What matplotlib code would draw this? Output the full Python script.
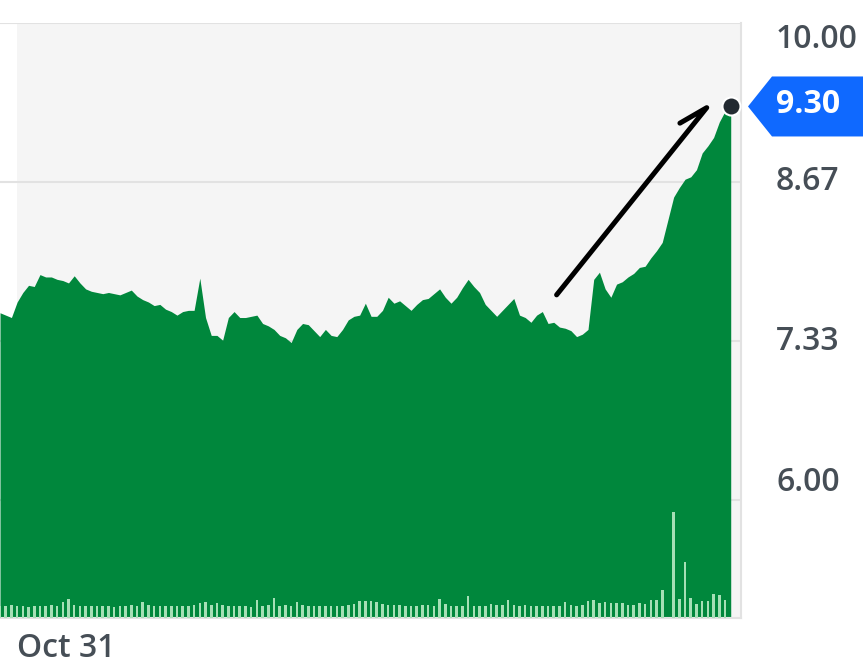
import matplotlib
matplotlib.use("Agg")
import matplotlib.pyplot as plt
import numpy as np
from matplotlib.patches import Polygon
from matplotlib.transforms import Affine2D, blended_transform_factory

# ── Data ────────────────────────────────────────────────────────────────
PRICES = [
    7.57, 7.55, 7.53, 7.66, 7.74, 7.80, 7.79, 7.89, 7.87, 7.87,
    7.85, 7.84, 7.82, 7.88, 7.82, 7.77, 7.75, 7.74, 7.73, 7.74,
    7.73, 7.72, 7.74, 7.76, 7.71, 7.68, 7.66, 7.63, 7.64, 7.60,
    7.58, 7.55, 7.58, 7.59, 7.59, 7.86, 7.53, 7.38, 7.38, 7.34,
    7.53, 7.58, 7.53, 7.53, 7.54, 7.55, 7.48, 7.46, 7.43, 7.38,
    7.36, 7.32, 7.43, 7.48, 7.47, 7.42, 7.37, 7.43, 7.38, 7.37,
    7.43, 7.51, 7.54, 7.55, 7.65, 7.54, 7.54, 7.59, 7.70, 7.65,
    7.67, 7.63, 7.59, 7.64, 7.68, 7.69, 7.73, 7.77, 7.70, 7.65,
    7.70, 7.78, 7.85, 7.79, 7.74, 7.64, 7.59, 7.54, 7.59, 7.64,
    7.69, 7.55, 7.53, 7.49, 7.55, 7.58, 7.48, 7.49, 7.45, 7.44,
    7.42, 7.37, 7.39, 7.43, 7.85, 7.91, 7.77, 7.70, 7.81, 7.83,
    7.87, 7.90, 7.95, 7.96, 8.03, 8.09, 8.16, 8.35, 8.54, 8.62,
    8.69, 8.71, 8.77, 8.91, 8.97, 9.04, 9.17, 9.26, 9.30,
]

# volume, millions of shares
VOLUMES = [
    1.2, 1.2, 1.3, 1.2, 1.2, 1.1, 1.2, 1.2, 1.2, 1.3,
    1.2, 1.6, 1.9, 1.3, 1.2, 1.2, 1.2, 1.2, 1.2, 1.2,
    1.1, 1.2, 1.2, 1.3, 1.2, 1.6, 1.3, 1.2, 1.2, 1.2,
    1.2, 1.2, 1.2, 1.2, 1.3, 1.5, 1.6, 1.3, 1.5, 1.3,
    1.2, 1.2, 1.2, 1.2, 1.1, 1.8, 1.2, 1.3, 2.0, 1.2,
    1.3, 1.2, 1.6, 1.3, 1.2, 1.2, 1.2, 1.2, 1.2, 1.2,
    1.2, 1.3, 1.4, 1.7, 1.7, 1.7, 1.6, 1.4, 1.3, 1.3,
    1.3, 1.2, 1.2, 1.2, 1.3, 1.3, 1.2, 1.9, 1.4, 1.2,
    1.2, 1.2, 2.2, 1.2, 1.2, 1.2, 1.4, 1.3, 1.3, 1.8,
    1.3, 1.2, 1.3, 1.2, 1.2, 1.2, 1.2, 1.2, 1.2, 1.6,
    1.3, 1.2, 1.3, 1.7, 1.8, 1.5, 1.6, 1.5, 1.5, 1.5,
    1.3, 1.3, 1.5, 1.4, 1.8, 1.8, 2.8, 0.0, 10.6, 1.9,
    5.6, 2.0, 1.4, 1.7, 1.7, 2.4, 2.3, 1.8, 0.0,
]

X_LABEL = "Oct 31"
SESSION_START = 3          # day index where the Oct 31 session begins
Y_TICKS = [6.00, 7.333, 8.667, 10.00]
Y_MIN, Y_MAX = 5.01, 10.00
X_MAX = 129.8
VOL_MAX = 59.5

# hand-drawn arrow (day index, price)
ARROW_START = (97.5, 7.72)
ARROW_TIP = (123.8, 9.29)
ARROW_BARB = (119.1, 9.16)

GREEN = "#00873c"
VOL_GREEN = "#a6dfb6"
BAND = "#f5f5f5"
GRID = "#e2e2e2"
TEXT = "#464e56"
BLUE = "#0f69ff"
DOT = "#232a31"
FONT = "Open Sans"

# ── Plot ────────────────────────────────────────────────────────────────
fig = plt.figure(figsize=(8.63, 6.66), dpi=100)
rect = [0, 48 / 666, 741 / 863, 595 / 666]
ax = fig.add_axes(rect)
ax.set_facecolor("white")

days = np.arange(len(PRICES))

ax.axvspan(SESSION_START, X_MAX, color=BAND, lw=0, zorder=0)
for v in Y_TICKS:
    ax.axhline(v, color=GRID, lw=1.5, zorder=1)

ax.fill_between(days, PRICES, Y_MIN - 1, color=GREEN, lw=0, zorder=2)

# arrow
ax.plot([ARROW_BARB[0], ARROW_TIP[0], ARROW_START[0]],
        [ARROW_BARB[1], ARROW_TIP[1], ARROW_START[1]],
        color="black", lw=3.6, solid_capstyle="round",
        solid_joinstyle="round", zorder=4)

# last price dot
ax.plot(days[-1], PRICES[-1], "o", ms=13, mfc=DOT, mec="white", mew=1.5,
        clip_on=False, zorder=5)

ax.set_xlim(0, X_MAX)
ax.set_ylim(Y_MIN, Y_MAX)

for side in ["top", "left"]:
    ax.spines[side].set_visible(False)
for side in ["right", "bottom"]:
    ax.spines[side].set_color(GRID)
    ax.spines[side].set_linewidth(1.5)

ax.set_yticks([])
ax.set_xticks([SESSION_START])
ax.set_xticklabels([X_LABEL], ha="left", fontfamily=FONT,
                   fontweight="semibold")
ax.tick_params(axis="x", length=0, pad=10, labelsize=23, labelcolor=TEXT)

# y labels on the right
ytrans = blended_transform_factory(ax.transAxes, ax.transData)
shift = {0: 17, len(Y_TICKS) - 1: -16}   # px, keep end labels inside
for k, v in enumerate(Y_TICKS):
    ax.annotate(f"{v:.2f}", xy=(1.0, v), xycoords=ytrans,
                xytext=(35 * 0.72, shift.get(k, 0) * 0.72),
                textcoords="offset points", ha="left", va="center",
                fontsize=23, color=TEXT, fontfamily=FONT,
                fontweight="semibold", annotation_clip=False)

# volume bars on their own scale
axv = fig.add_axes(rect, sharex=ax)
axv.patch.set_visible(False)
axv.bar(days, VOLUMES, width=0.45, color=VOL_GREEN, lw=0)
axv.set_ylim(0, VOL_MAX)
axv.axis("off")

# blue price tag (pixel offsets from the axis edge at the last price)
anchor = ytrans.transform((1.0, PRICES[-1]))
tag_trans = Affine2D().translate(*anchor)
tag = Polygon([(7, 0), (31, 30), (140, 30), (140, -30), (31, -30)],
              closed=True, facecolor=BLUE, edgecolor="none",
              transform=tag_trans, zorder=5)
fig.add_artist(tag)
fig.text(67, 2, f"{PRICES[-1]:.2f}", transform=tag_trans,
         ha="center", va="center", fontsize=23, color="white",
         fontfamily=FONT, fontweight="bold", zorder=6)

fig.savefig("out.png", dpi=100)
